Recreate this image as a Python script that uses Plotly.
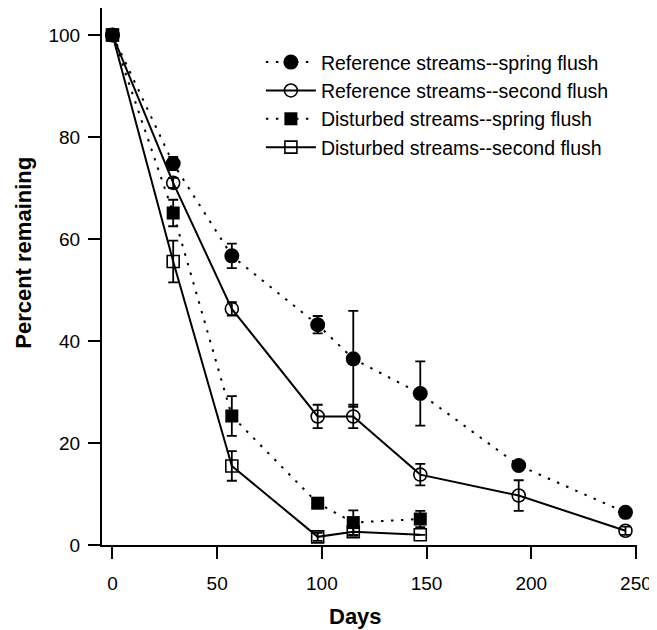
import plotly.graph_objects as go

# ---- data ----
days_ref = [0, 29, 57, 98, 115, 147, 194, 245]
ref_spring = [100, 74.8, 56.7, 43.2, 36.5, 29.7, 15.6, 6.4]
ref_spring_err = [0, 1.3, 2.4, 1.7, 9.4, 6.3, 0.8, 0.6]
ref_second = [100, 71.0, 46.3, 25.2, 25.2, 13.8, 9.7, 2.8]
ref_second_err = [0, 1.0, 1.3, 2.3, 2.3, 2.1, 3.0, 0.8]

days_dist = [0, 29, 57, 98, 115, 147]
dist_spring = [100, 65.1, 25.3, 8.2, 4.4, 5.1]
dist_spring_err = [0, 2.6, 3.9, 0.6, 2.4, 1.6]
dist_second = [100, 55.6, 15.5, 1.6, 2.6, 2.0]
dist_second_err = [0, 4.1, 2.9, 0.8, 0.8, 0.0]

names = [
    "Reference streams--spring flush",
    "Reference streams--second flush",
    "Disturbed streams--spring flush",
    "Disturbed streams--second flush",
]

x_ticks = [0, 50, 100, 150, 200, 250]
y_ticks = [0, 20, 40, 60, 80, 100]

FONT = "Liberation Sans, Arial, sans-serif"
DOT = "2.5px,7.5px"

fig = go.Figure()

def add(x, y, err, name, symbol, size, dash, rank, lw_marker=0):
    fig.add_trace(go.Scatter(
        x=x, y=y, name=name, mode="lines+markers", legendrank=rank,
        line=dict(color="black", width=2, dash=dash),
        marker=dict(symbol=symbol, size=size, color="black",
                    line=dict(color="black", width=lw_marker)),
        error_y=dict(type="data", array=err, visible=True, color="black",
                     thickness=1.8, width=5),
        cliponaxis=False,
    ))

add(days_ref, ref_spring, ref_spring_err, names[0], "circle", 15, DOT, 1)
add(days_ref, ref_second, ref_second_err, names[1], "circle-open", 13, "solid", 2, 1.6)
add(days_dist, dist_second, dist_second_err, names[3], "square-open", 12, "solid", 4, 1.6)
add(days_dist, dist_spring, dist_spring_err, names[2], "square", 13, DOT, 3)

fig.update_layout(
    width=649, height=622,
    margin=dict(l=94, r=20, t=0, b=85),
    paper_bgcolor="white", plot_bgcolor="white",
    font=dict(family=FONT, size=19, color="black"),
    showlegend=True,
    legend=dict(x=0.297, y=0.935, xanchor="left", yanchor="top",
                bgcolor="rgba(0,0,0,0)", font=dict(size=19.5),
                itemwidth=50, tracegroupgap=0),
    xaxis=dict(range=[-5, 250.5], tickvals=x_ticks, showgrid=False,
               zeroline=False, showline=True, linecolor="black", linewidth=2,
               ticks="outside", ticklen=12, tickwidth=1.5, tickcolor="black",
               ticklabelstandoff=8),
    yaxis=dict(range=[0, 105.3], tickvals=y_ticks, showgrid=False,
               zeroline=False, showline=True, linecolor="black", linewidth=2,
               ticks="outside", ticklen=12, tickwidth=1.5, tickcolor="black",
               ticklabelstandoff=4),
    annotations=[
        dict(text="<b>Percent remaining</b>", xref="paper", yref="paper",
             x=-0.146, y=0.544, textangle=-90, showarrow=False,
             font=dict(size=22, family=FONT), xanchor="center", yanchor="middle"),
        dict(text="<b>Days</b>", xref="paper", yref="paper",
             x=0.473, y=-0.134, showarrow=False,
             font=dict(size=22, family=FONT), xanchor="center", yanchor="middle"),
    ],
)

fig.write_html("out.html")
